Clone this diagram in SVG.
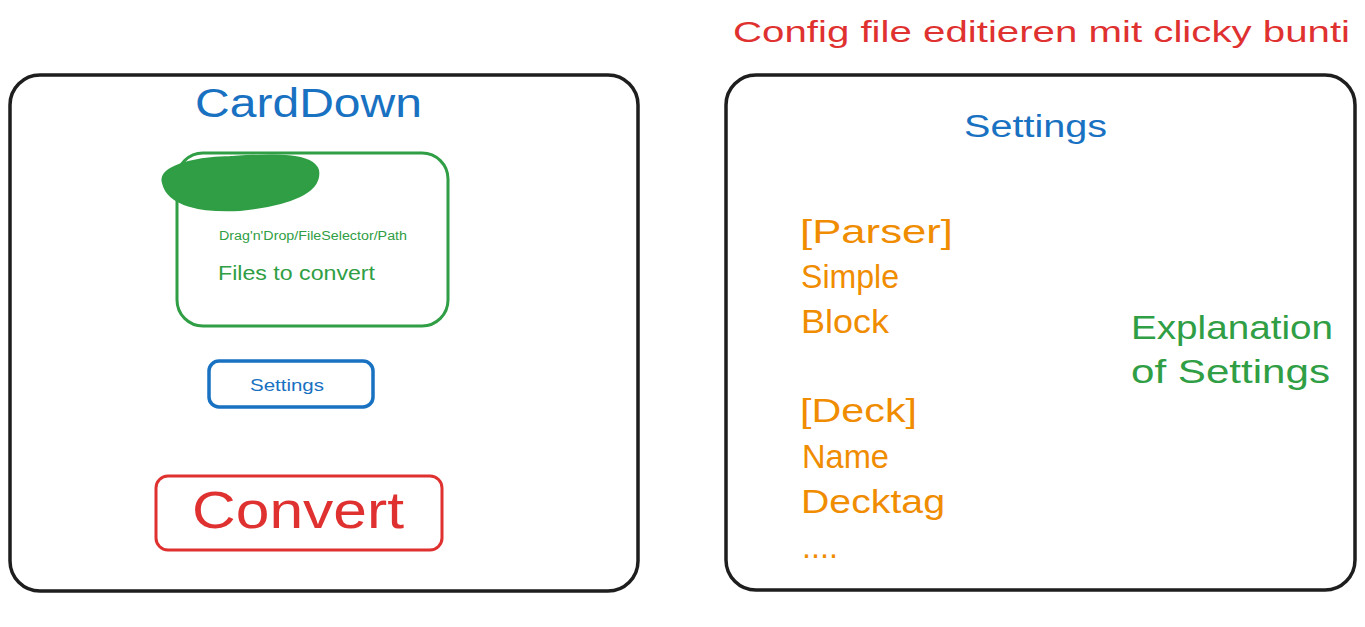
<svg xmlns="http://www.w3.org/2000/svg" width="1365" height="627" viewBox="0 0 1365 627">
<style>
.frame{fill:none;stroke:#1e1e1e;stroke-width:3.5;stroke-linejoin:round}
.g{fill:none;stroke:#2f9e44;stroke-width:3}
.b{fill:none;stroke:#1971c2;stroke-width:3.5}
.r{fill:none;stroke:#e03131;stroke-width:3}
text{font-family:"Liberation Sans","DejaVu Sans",sans-serif}
.tb{fill:#1971c2}
.tg{fill:#2f9e44}
.tr{fill:#e03131}
.to{fill:#f08c00;font-size:34px}
.tgl{fill:#2f9e44;font-size:33px}
</style>
<rect width="1365" height="627" fill="#ffffff"/>
<g id="title-config">
<text class="tr" x="733" y="42" font-size="29" textLength="617" lengthAdjust="spacingAndGlyphs">Config file editieren mit clicky bunti</text>
</g>
<g id="main-window">
<rect class="frame" x="10" y="75" width="628" height="516" rx="30"/>
<text class="tb" x="195" y="117" font-size="40" textLength="227" lengthAdjust="spacingAndGlyphs">CardDown</text>
</g>
<g id="drop-zone">
<rect class="g" x="177" y="153" width="271" height="173" rx="26"/>
<path d="M163 183 C158 168 190 158 230 157 C270 155 312 152 318 170 C322 192 290 205 240 210 C200 212 168 205 163 183 Z" fill="#2f9e44" stroke="#2f9e44" stroke-width="2"/>
<text class="tg" x="219" y="240" font-size="12" textLength="188" lengthAdjust="spacingAndGlyphs">Drag'n'Drop/FileSelector/Path</text>
<text class="tg" x="218" y="280" font-size="20" textLength="157" lengthAdjust="spacingAndGlyphs">Files to convert</text>
</g>
<g id="settings-button">
<rect class="b" x="209" y="361" width="164" height="46" rx="10"/>
<text class="tb" x="250" y="391" font-size="17" textLength="74" lengthAdjust="spacingAndGlyphs">Settings</text>
</g>
<g id="convert-button">
<rect class="r" x="156" y="476" width="286" height="74" rx="12"/>
<text class="tr" x="192" y="528" font-size="52" textLength="212" lengthAdjust="spacingAndGlyphs">Convert</text>
</g>
<g id="settings-window">
<rect class="frame" x="726" y="75" width="629" height="515" rx="30"/>
<text class="tb" x="964" y="137" font-size="31" textLength="143" lengthAdjust="spacingAndGlyphs">Settings</text>
</g>
<g id="settings-list">
<text class="to" x="800" y="243" textLength="153" lengthAdjust="spacingAndGlyphs">[Parser]</text>
<text class="to" x="801" y="288" textLength="98" lengthAdjust="spacingAndGlyphs">Simple</text>
<text class="to" x="801" y="333" textLength="88" lengthAdjust="spacingAndGlyphs">Block</text>
<text class="to" x="800" y="422" textLength="117" lengthAdjust="spacingAndGlyphs">[Deck]</text>
<text class="to" x="802" y="468" textLength="87" lengthAdjust="spacingAndGlyphs">Name</text>
<text class="to" x="801" y="513" textLength="144" lengthAdjust="spacingAndGlyphs">Decktag</text>
<text class="to" x="802" y="558" textLength="36" lengthAdjust="spacingAndGlyphs">....</text>
</g>
<g id="explanation">
<text class="tgl" x="1131" y="339" textLength="202" lengthAdjust="spacingAndGlyphs">Explanation</text>
<text class="tgl" x="1131" y="383" textLength="199" lengthAdjust="spacingAndGlyphs">of Settings</text>
</g>
</svg>
